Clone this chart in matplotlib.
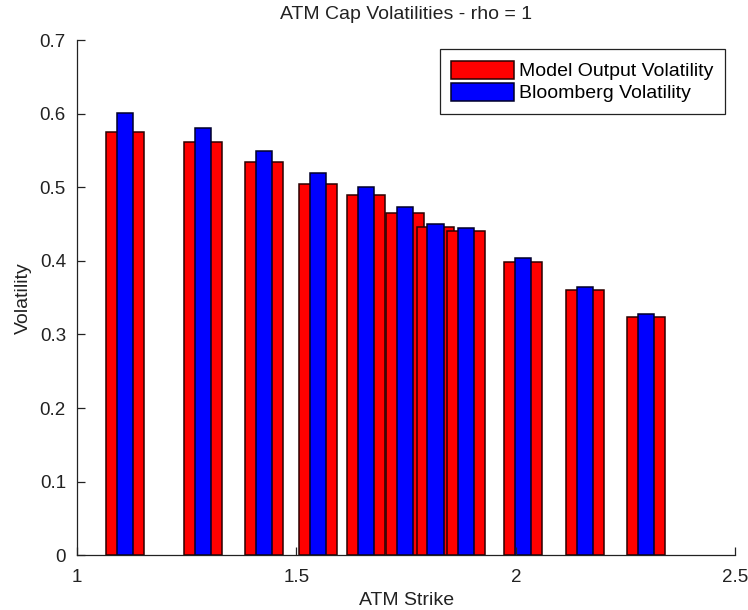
#!/usr/bin/env python3
"""
ATM cap volatilities: model output vs Bloomberg quotes, drawn as overlaid bars.
"""
import matplotlib
matplotlib.use('Agg')
import matplotlib.pyplot as plt
import matplotlib as mpl

mpl.rcParams['font.family'] = ['Liberation Sans', 'DejaVu Sans']

strikes = [1.109, 1.287, 1.426, 1.549, 1.658, 1.748, 1.817, 1.887, 2.017, 2.158, 2.297]
model_vol = [0.575, 0.561, 0.534, 0.505, 0.490, 0.465, 0.446, 0.440, 0.399, 0.361, 0.324]
bloomberg_vol = [0.601, 0.581, 0.550, 0.520, 0.500, 0.473, 0.450, 0.4445, 0.404, 0.365, 0.328]


def main():
    fig = plt.figure(figsize=(7.48, 6.10), dpi=100)
    ax = fig.add_axes([0.103, 0.090, 0.880, 0.844])

    ax.bar(strikes, model_vol, width=0.086, color='#ff0000',
           edgecolor='#2a0000', linewidth=1.1, label='Model Output Volatility')
    ax.bar(strikes, bloomberg_vol, width=0.037, color='#0000ff',
           edgecolor='#00002a', linewidth=1.1, label='Bloomberg Volatility')

    ax.set_xlim(1, 2.5)
    ax.set_ylim(0, 0.7)
    ax.set_xticks([1, 1.5, 2, 2.5])
    ax.set_xticklabels(['1', '1.5', '2', '2.5'])
    ax.set_yticks([0, 0.1, 0.2, 0.3, 0.4, 0.5, 0.6, 0.7])
    ax.set_yticklabels(['0', '0.1', '0.2', '0.3', '0.4', '0.5', '0.6', '0.7'])

    # MATLAB-like axes: box off, ticks pointing inward
    for side in ('top', 'right'):
        ax.spines[side].set_visible(False)
    for side in ('left', 'bottom'):
        ax.spines[side].set_color('#222222')
        ax.spines[side].set_linewidth(0.9)
    ax.tick_params(direction='in', length=6, width=0.9, colors='#222222',
                   labelsize=13.5, labelcolor='#222222')
    ax.tick_params(axis='x', pad=10)
    ax.tick_params(axis='y', pad=8)

    ax.set_title('ATM Cap Volatilities - rho = 1', fontsize=14, color='#222222', pad=15)
    ax.set_xlabel('ATM Strike', fontsize=14, color='#222222', labelpad=4)
    ax.set_ylabel('Volatility', fontsize=14, color='#222222', labelpad=5.5)

    leg = ax.legend(loc='upper right', bbox_to_anchor=(0.985, 0.983), borderaxespad=0,
                    fontsize=14, fancybox=False, framealpha=1, edgecolor='#222222',
                    handlelength=3.2, handleheight=1.05, labelspacing=0.12,
                    handletextpad=0.3, borderpad=0.6)
    leg.get_frame().set_linewidth(0.9)

    fig.savefig('out.png', dpi=100)


if __name__ == '__main__':
    main()
